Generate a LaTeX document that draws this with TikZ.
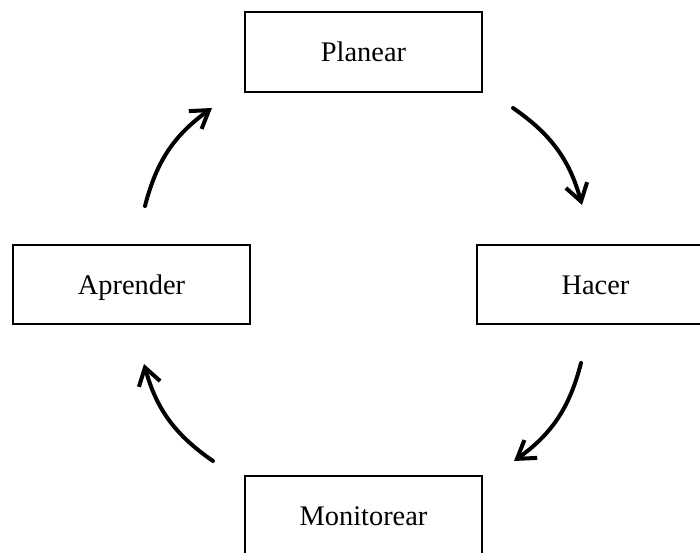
\documentclass[tikz,border=0pt]{standalone}
\usepackage{fontspec}
\setmainfont{Liberation Serif}
\usetikzlibrary{arrows.meta}
\begin{document}
\begin{tikzpicture}[x=1bp,y=-1bp,
  stagebox/.style={draw=black,line width=2bp,rectangle,inner sep=0pt,
    minimum width=237bp,
    text height=19bp,text depth=0pt,font=\fontsize{28.5}{34}\selectfont},
  cyclearrow/.style={line width=4bp,line cap=round,
    -{Straight Barb[length=17bp,width=22bp,line width=4bp]},bend left=20}]
\useasboundingbox (0,0) rectangle (700,553);
\node[stagebox,minimum height=80bp] (plan) at (363.5,52) {Planear};
\node[stagebox,minimum height=79bp] (hacer) at (595.5,284.5) {Hacer};
\node[stagebox,minimum height=79bp] (apr) at (131.5,284.5) {Aprender};
\node[stagebox,minimum height=80bp] (mon) at (363.5,516) {Monitorear};
\coordinate (a1s) at (513,108);
\coordinate (a1e) at (582,205);
\coordinate (a2s) at (581,363);
\coordinate (a2e) at (514,461);
\coordinate (a3s) at (213,461);
\coordinate (a3e) at (144,364);
\coordinate (a4s) at (145,206);
\coordinate (a4e) at (212,108);
\draw[cyclearrow] (a1s) to (a1e);
\draw[cyclearrow] (a2s) to (a2e);
\draw[cyclearrow] (a3s) to (a3e);
\draw[cyclearrow] (a4s) to (a4e);
\end{tikzpicture}
\end{document}
